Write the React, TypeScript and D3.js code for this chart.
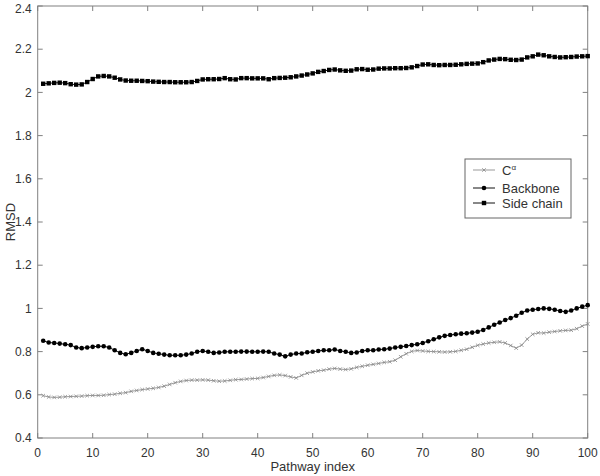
import React, { useEffect, useRef } from "react"
import * as d3 from "d3"

// pathway index 1..100
const pathwayIndex: number[] = d3.range(1, 101)

const calpha: number[] = [
  0.596, 0.590, 0.588, 0.589, 0.591, 0.592, 0.593, 0.594, 0.596, 0.597,
  0.597, 0.598, 0.601, 0.603, 0.607, 0.610, 0.616, 0.620, 0.624, 0.627,
  0.630, 0.634, 0.640, 0.648, 0.656, 0.662, 0.666, 0.668, 0.668, 0.669,
  0.668, 0.665, 0.663, 0.664, 0.667, 0.670, 0.671, 0.673, 0.675, 0.676,
  0.680, 0.685, 0.690, 0.692, 0.689, 0.683, 0.678, 0.690, 0.700, 0.706,
  0.711, 0.714, 0.719, 0.722, 0.719, 0.717, 0.720, 0.727, 0.732, 0.737,
  0.741, 0.745, 0.750, 0.753, 0.760, 0.776, 0.790, 0.801, 0.805, 0.803,
  0.801, 0.800, 0.799, 0.798, 0.799, 0.801, 0.806, 0.811, 0.820, 0.829,
  0.835, 0.840, 0.843, 0.845, 0.840, 0.828, 0.816, 0.830, 0.858, 0.880,
  0.887, 0.886, 0.890, 0.893, 0.896, 0.898, 0.899, 0.906, 0.918, 0.928,
]

const backbone: number[] = [
  0.850, 0.842, 0.840, 0.837, 0.834, 0.830, 0.819, 0.816, 0.819, 0.822,
  0.825, 0.825, 0.819, 0.806, 0.794, 0.788, 0.794, 0.803, 0.811, 0.803,
  0.794, 0.790, 0.786, 0.783, 0.783, 0.783, 0.786, 0.791, 0.799, 0.803,
  0.799, 0.794, 0.796, 0.799, 0.799, 0.799, 0.800, 0.800, 0.799, 0.799,
  0.800, 0.799, 0.791, 0.786, 0.778, 0.786, 0.791, 0.791, 0.797, 0.799,
  0.803, 0.806, 0.806, 0.810, 0.803, 0.799, 0.794, 0.796, 0.803, 0.806,
  0.806, 0.810, 0.811, 0.814, 0.819, 0.822, 0.826, 0.830, 0.834, 0.840,
  0.848, 0.857, 0.866, 0.873, 0.877, 0.880, 0.883, 0.885, 0.888, 0.892,
  0.900, 0.912, 0.924, 0.935, 0.946, 0.955, 0.966, 0.980, 0.990, 0.994,
  0.997, 1.000, 0.998, 0.994, 0.988, 0.984, 0.990, 1.000, 1.008, 1.015,
]

const sideChain: number[] = [
  2.040, 2.042, 2.044, 2.045, 2.043, 2.038, 2.036, 2.037, 2.048, 2.062,
  2.074, 2.076, 2.074, 2.068, 2.060, 2.055, 2.054, 2.054, 2.053, 2.052,
  2.050, 2.049, 2.048, 2.048, 2.047, 2.047, 2.047, 2.048, 2.053, 2.060,
  2.061, 2.061, 2.062, 2.066, 2.061, 2.060, 2.066, 2.066, 2.065, 2.065,
  2.065, 2.061, 2.066, 2.067, 2.068, 2.070, 2.074, 2.078, 2.083, 2.088,
  2.095, 2.099, 2.104, 2.106, 2.102, 2.100, 2.101, 2.107, 2.108, 2.105,
  2.106, 2.110, 2.111, 2.111, 2.112, 2.112, 2.113, 2.116, 2.122, 2.129,
  2.130, 2.127, 2.126, 2.127, 2.127, 2.128, 2.130, 2.132, 2.133, 2.134,
  2.140, 2.148, 2.152, 2.155, 2.154, 2.151, 2.150, 2.152, 2.162, 2.167,
  2.175, 2.172, 2.167, 2.164, 2.162, 2.163, 2.164, 2.166, 2.167, 2.168,
]

const xTicks: number[] = [0, 10, 20, 30, 40, 50, 60, 70, 80, 90, 100]
const yTicks: number[] = [0.4, 0.6, 0.8, 1, 1.2, 1.4, 1.6, 1.8, 2, 2.2, 2.4]

const W = 600
const H = 476
const FONT = "'Liberation Sans', Arial, sans-serif"

export default function App() {
  const ref = useRef<SVGSVGElement>(null)

  useEffect(() => {
    const svg = d3.select(ref.current)
    svg.selectAll("*").remove()

    const left = 37.7, right = 587.7, top = 6, bottom = 438

    const x = d3.scaleLinear().domain([0, 100]).range([left, right])
    const y = d3.scaleLinear().domain([0.4, 2.4]).range([bottom, top])

    const axisColor = "#808080"
    const textColor = "#333"

    // frame
    svg.append("rect")
      .attr("x", left).attr("y", top)
      .attr("width", right - left).attr("height", bottom - top)
      .attr("fill", "none").attr("stroke", axisColor).attr("stroke-width", 1)

    // inward ticks on all four sides
    const tl = 5
    const ticks = svg.append("g").attr("stroke", axisColor).attr("stroke-width", 1)
    xTicks.forEach(t => {
      ticks.append("line").attr("x1", x(t)).attr("x2", x(t)).attr("y1", bottom).attr("y2", bottom - tl)
      ticks.append("line").attr("x1", x(t)).attr("x2", x(t)).attr("y1", top).attr("y2", top + tl)
    })
    yTicks.forEach(t => {
      ticks.append("line").attr("x1", left).attr("x2", left + tl).attr("y1", y(t)).attr("y2", y(t))
      ticks.append("line").attr("x1", right).attr("x2", right - tl).attr("y1", y(t)).attr("y2", y(t))
    })

    const labels = svg.append("g")
      .attr("font-family", FONT).attr("font-size", 12).attr("fill", textColor)

    labels.selectAll("text.xt")
      .data(xTicks).enter().append("text")
      .attr("class", "xt")
      .attr("x", d => x(d)).attr("y", bottom + 19)
      .attr("text-anchor", "middle")
      .text(d => d3.format("")(d))

    labels.selectAll("text.yt")
      .data(yTicks).enter().append("text")
      .attr("class", "yt")
      .attr("x", left - 6).attr("y", d => Math.max(y(d), 9)).attr("dy", "0.35em")
      .attr("text-anchor", "end")
      .text(d => String(d))

    labels.append("text")
      .attr("x", (left + right) / 2).attr("y", 471)
      .attr("text-anchor", "middle").attr("font-size", 13)
      .text("Pathway index")

    labels.append("text")
      .attr("transform", `translate(15, ${(top + bottom) / 2}) rotate(-90)`)
      .attr("text-anchor", "middle").attr("font-size", 13)
      .text("RMSD")

    const line = d3.line<number>()
      .x((_, i) => x(pathwayIndex[i]))
      .y(d => y(d))

    const plot = svg.append("g")

    // C-alpha
    plot.append("path").datum(calpha)
      .attr("fill", "none").attr("stroke", "#999").attr("stroke-width", 1).attr("d", line)
    const cross = d3.symbol().type(d3.symbolX).size(10)
    plot.selectAll("path.ca")
      .data(calpha).enter().append("path")
      .attr("class", "ca")
      .attr("d", cross)
      .attr("transform", (d, i) => `translate(${x(pathwayIndex[i])},${y(d)})`)
      .attr("fill", "none").attr("stroke", "#888").attr("stroke-width", 0.8)

    // backbone
    plot.append("path").datum(backbone)
      .attr("fill", "none").attr("stroke", "#111").attr("stroke-width", 1).attr("d", line)
    plot.selectAll("circle.bb")
      .data(backbone).enter().append("circle")
      .attr("class", "bb")
      .attr("cx", (_, i) => x(pathwayIndex[i])).attr("cy", d => y(d))
      .attr("r", 2.3).attr("fill", "#000")

    // side chain
    plot.append("path").datum(sideChain)
      .attr("fill", "none").attr("stroke", "#111").attr("stroke-width", 1).attr("d", line)
    plot.selectAll("rect.sc")
      .data(sideChain).enter().append("rect")
      .attr("class", "sc")
      .attr("x", (_, i) => x(pathwayIndex[i]) - 2.2).attr("y", d => y(d) - 2.2)
      .attr("width", 4.4).attr("height", 4.4).attr("fill", "#000")

    // legend
    const lg = svg.append("g")
    lg.append("rect")
      .attr("x", 465).attr("y", 159).attr("width", 106).attr("height", 59)
      .attr("fill", "#fff").attr("stroke", "#666").attr("stroke-width", 1)

    const rows = [
      { name: "ca", y: 170 },
      { name: "bb", y: 188 },
      { name: "sc", y: 203 },
    ]
    rows.forEach(r => {
      const col = r.name === "ca" ? "#999" : "#111"
      lg.append("line").attr("x1", 473).attr("x2", 495).attr("y1", r.y).attr("y2", r.y)
        .attr("stroke", col).attr("stroke-width", 1)
      if (r.name === "ca") {
        lg.append("path").attr("d", cross).attr("transform", `translate(484,${r.y})`)
          .attr("fill", "none").attr("stroke", "#888").attr("stroke-width", 0.8)
      } else if (r.name === "bb") {
        lg.append("circle").attr("cx", 484).attr("cy", r.y).attr("r", 2.3).attr("fill", "#000")
      } else {
        lg.append("rect").attr("x", 481.8).attr("y", r.y - 2.2).attr("width", 4.4).attr("height", 4.4).attr("fill", "#000")
      }
    })

    const lt = lg.append("g").attr("font-family", FONT).attr("font-size", 13).attr("fill", textColor)
    const ca = lt.append("text").attr("x", 502).attr("y", rows[0].y + 5)
    ca.append("tspan").text("C")
    ca.append("tspan").attr("dy", -5).attr("font-size", 8).text("α")
    lt.append("text").attr("x", 502).attr("y", rows[1].y + 5).text("Backbone")
    lt.append("text").attr("x", 502).attr("y", rows[2].y + 5).text("Side chain")
  }, [])

  return (
    <svg ref={ref} width={W} height={H}
      style={{ position: "absolute", left: 0, top: 0, background: "#fff" }} />
  )
}
